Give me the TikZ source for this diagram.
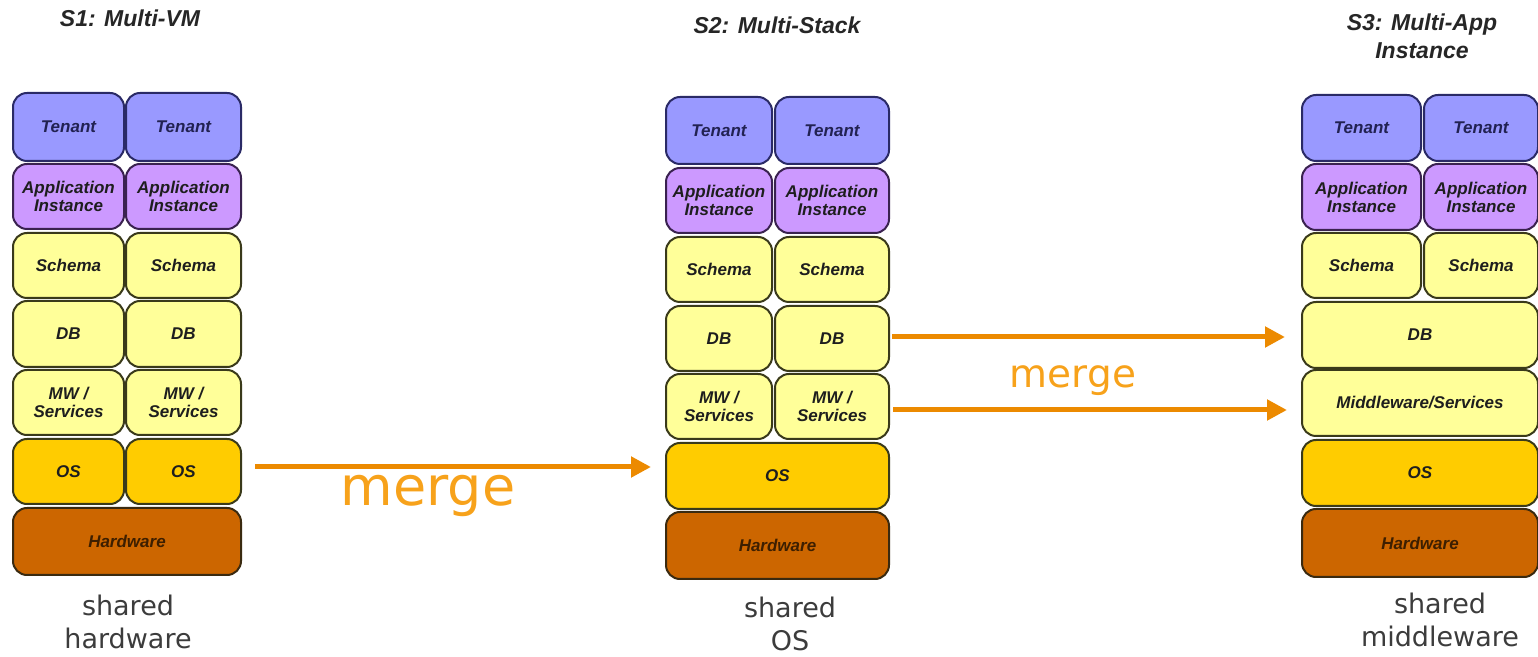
\documentclass[tikz,border=0pt]{standalone}
\usepackage{fontspec}
\setmainfont{Liberation Sans}
\newfontfamily\verd{DejaVu Sans}
\usetikzlibrary{arrows.meta}
\definecolor{tenfill}{HTML}{9999FF}
\definecolor{tendraw}{HTML}{2A2A66}
\definecolor{appfill}{HTML}{CC99FF}
\definecolor{appdraw}{HTML}{3A2250}
\definecolor{yelfill}{HTML}{FFFF99}
\definecolor{yeldraw}{HTML}{3A3A1A}
\definecolor{osfill}{HTML}{FFCC00}
\definecolor{hwfill}{HTML}{CC6600}
\definecolor{hwdraw}{HTML}{3A2A10}
\definecolor{arrcol}{HTML}{EC8A00}
\definecolor{mergecol}{HTML}{F7A21B}
\definecolor{graytxt}{HTML}{3C3C3C}
\definecolor{boxtxt}{HTML}{1E1E1E}
\newcommand{\layer}[7]{%
  \pgfmathsetmacro\Lwid{(#5-#3)*0.5}%
  \pgfmathsetmacro\Lhgt{(#6-#4)*0.5}%
  \node[lay, #2, anchor=north west, minimum width=\Lwid pt, minimum height=\Lhgt pt] (#1) at (#3,#4) {#7};}
\begin{document}
\begin{tikzpicture}[x=0.5pt,y=-0.5pt,
  lay/.style={rectangle, rounded corners=7pt, line width=1pt, inner sep=0pt, align=center,
    font={\bfseries\itshape\fontsize{8.5}{9}\selectfont}, text=boxtxt},
  ten/.style={fill=tenfill, draw=tendraw, text=tendraw!80!black},
  app/.style={fill=appfill, draw=appdraw},
  yel/.style={fill=yelfill, draw=yeldraw},
  osl/.style={fill=osfill, draw=yeldraw},
  hw/.style={fill=hwfill, draw=hwdraw, text=black!70!hwfill},
  ttl/.style={font={\bfseries\itshape\fontsize{11.5}{14}\selectfont}, text=black!85, align=center},
  shr/.style={font={\verd\fontsize{13.5}{16.5}\selectfont}, text=graytxt, align=center},
  mrg/.style={text=mergecol},
  arr/.style={draw=arrcol, line width=2.5pt, -{Triangle[length=10pt,width=10pt]}}
]
\useasboundingbox (0,0) rectangle (1538,657);
% ---------- S1 ----------
\node[ttl] (t1) at (130,18) {S1: Multi-VM};
\layer{ten1a}{ten}{12}{92}{123}{160}{Tenant}
\layer{ten1b}{ten}{125}{92}{240}{160}{Tenant}
\layer{app1a}{app}{12}{163}{123}{228}{Application\\Instance}
\layer{app1b}{app}{125}{163}{240}{228}{Application\\Instance}
\layer{sch1a}{yel}{12}{232}{123}{297}{Schema}
\layer{sch1b}{yel}{125}{232}{240}{297}{Schema}
\layer{db1a}{yel}{12}{300}{123}{366}{DB}
\layer{db1b}{yel}{125}{300}{240}{366}{DB}
\layer{mw1a}{yel}{12}{369}{123}{434}{MW /\\Services}
\layer{mw1b}{yel}{125}{369}{240}{434}{MW /\\Services}
\layer{os1a}{osl}{12}{438}{123}{503}{OS}
\layer{os1b}{osl}{125}{438}{240}{503}{OS}
\layer{hw1}{hw}{12}{507}{240}{574}{Hardware}
\node[shr] (s1) at (128,622) {shared\\hardware};
% ---------- S2 ----------
\node[ttl] (t2) at (777,25) {S2: Multi-Stack};
\layer{ten2a}{ten}{665}{96}{771}{163}{Tenant}
\layer{ten2b}{ten}{774}{96}{888}{163}{Tenant}
\layer{app2a}{app}{665}{167}{771}{232}{Application\\Instance}
\layer{app2b}{app}{774}{167}{888}{232}{Application\\Instance}
\layer{sch2a}{yel}{665}{236}{771}{301}{Schema}
\layer{sch2b}{yel}{774}{236}{888}{301}{Schema}
\layer{db2a}{yel}{665}{305}{771}{370}{DB}
\layer{db2b}{yel}{774}{305}{888}{370}{DB}
\layer{mw2a}{yel}{665}{373}{771}{438}{MW /\\Services}
\layer{mw2b}{yel}{774}{373}{888}{438}{MW /\\Services}
\layer{os2}{osl}{665}{442}{888}{508}{OS}
\layer{hw2}{hw}{665}{511}{888}{578}{Hardware}
\node[shr] (s2) at (790,624) {shared\\OS};
% ---------- S3 ----------
\node[ttl] (t3) at (1422,36) {S3: Multi-App\\Instance};
\layer{ten3a}{ten}{1301}{94}{1420}{160}{Tenant}
\layer{ten3b}{ten}{1423}{94}{1537}{160}{Tenant}
\layer{app3a}{app}{1301}{163}{1420}{229}{Application\\Instance}
\layer{app3b}{app}{1423}{163}{1537}{229}{Application\\Instance}
\layer{sch3a}{yel}{1301}{232}{1420}{297}{Schema}
\layer{sch3b}{yel}{1423}{232}{1537}{297}{Schema}
\layer{db3}{yel}{1301}{301}{1537}{367}{DB}
\layer{mw3}{yel}{1301}{369}{1537}{435}{Middleware/Services}
\layer{os3}{osl}{1301}{439}{1537}{505}{OS}
\layer{hw3}{hw}{1301}{508}{1537}{576}{Hardware}
\node[shr] (s3) at (1440,620) {shared\\middleware};
% ---------- arrows ----------
\draw[arr, shorten <=6.5pt, shorten >=7pt] (os1b.east |- 0,467) -- (os2.west |- 0,467);
\node[mrg, font={\verd\fontsize{27}{30}\selectfont}] (m1) at (428,496) {merge};
\draw[arr, shorten <=1pt, shorten >=8pt] (db2b.east |- 0,337) -- (db3.west |- 0,337);
\draw[arr, shorten <=1.5pt, shorten >=7pt] (mw2b.east |- 0,410) -- (mw3.west |- 0,410);
\node[mrg, font={\verd\fontsize{19.5}{22}\selectfont}] (m2) at (1073,381) {merge};
\end{tikzpicture}
\end{document}
